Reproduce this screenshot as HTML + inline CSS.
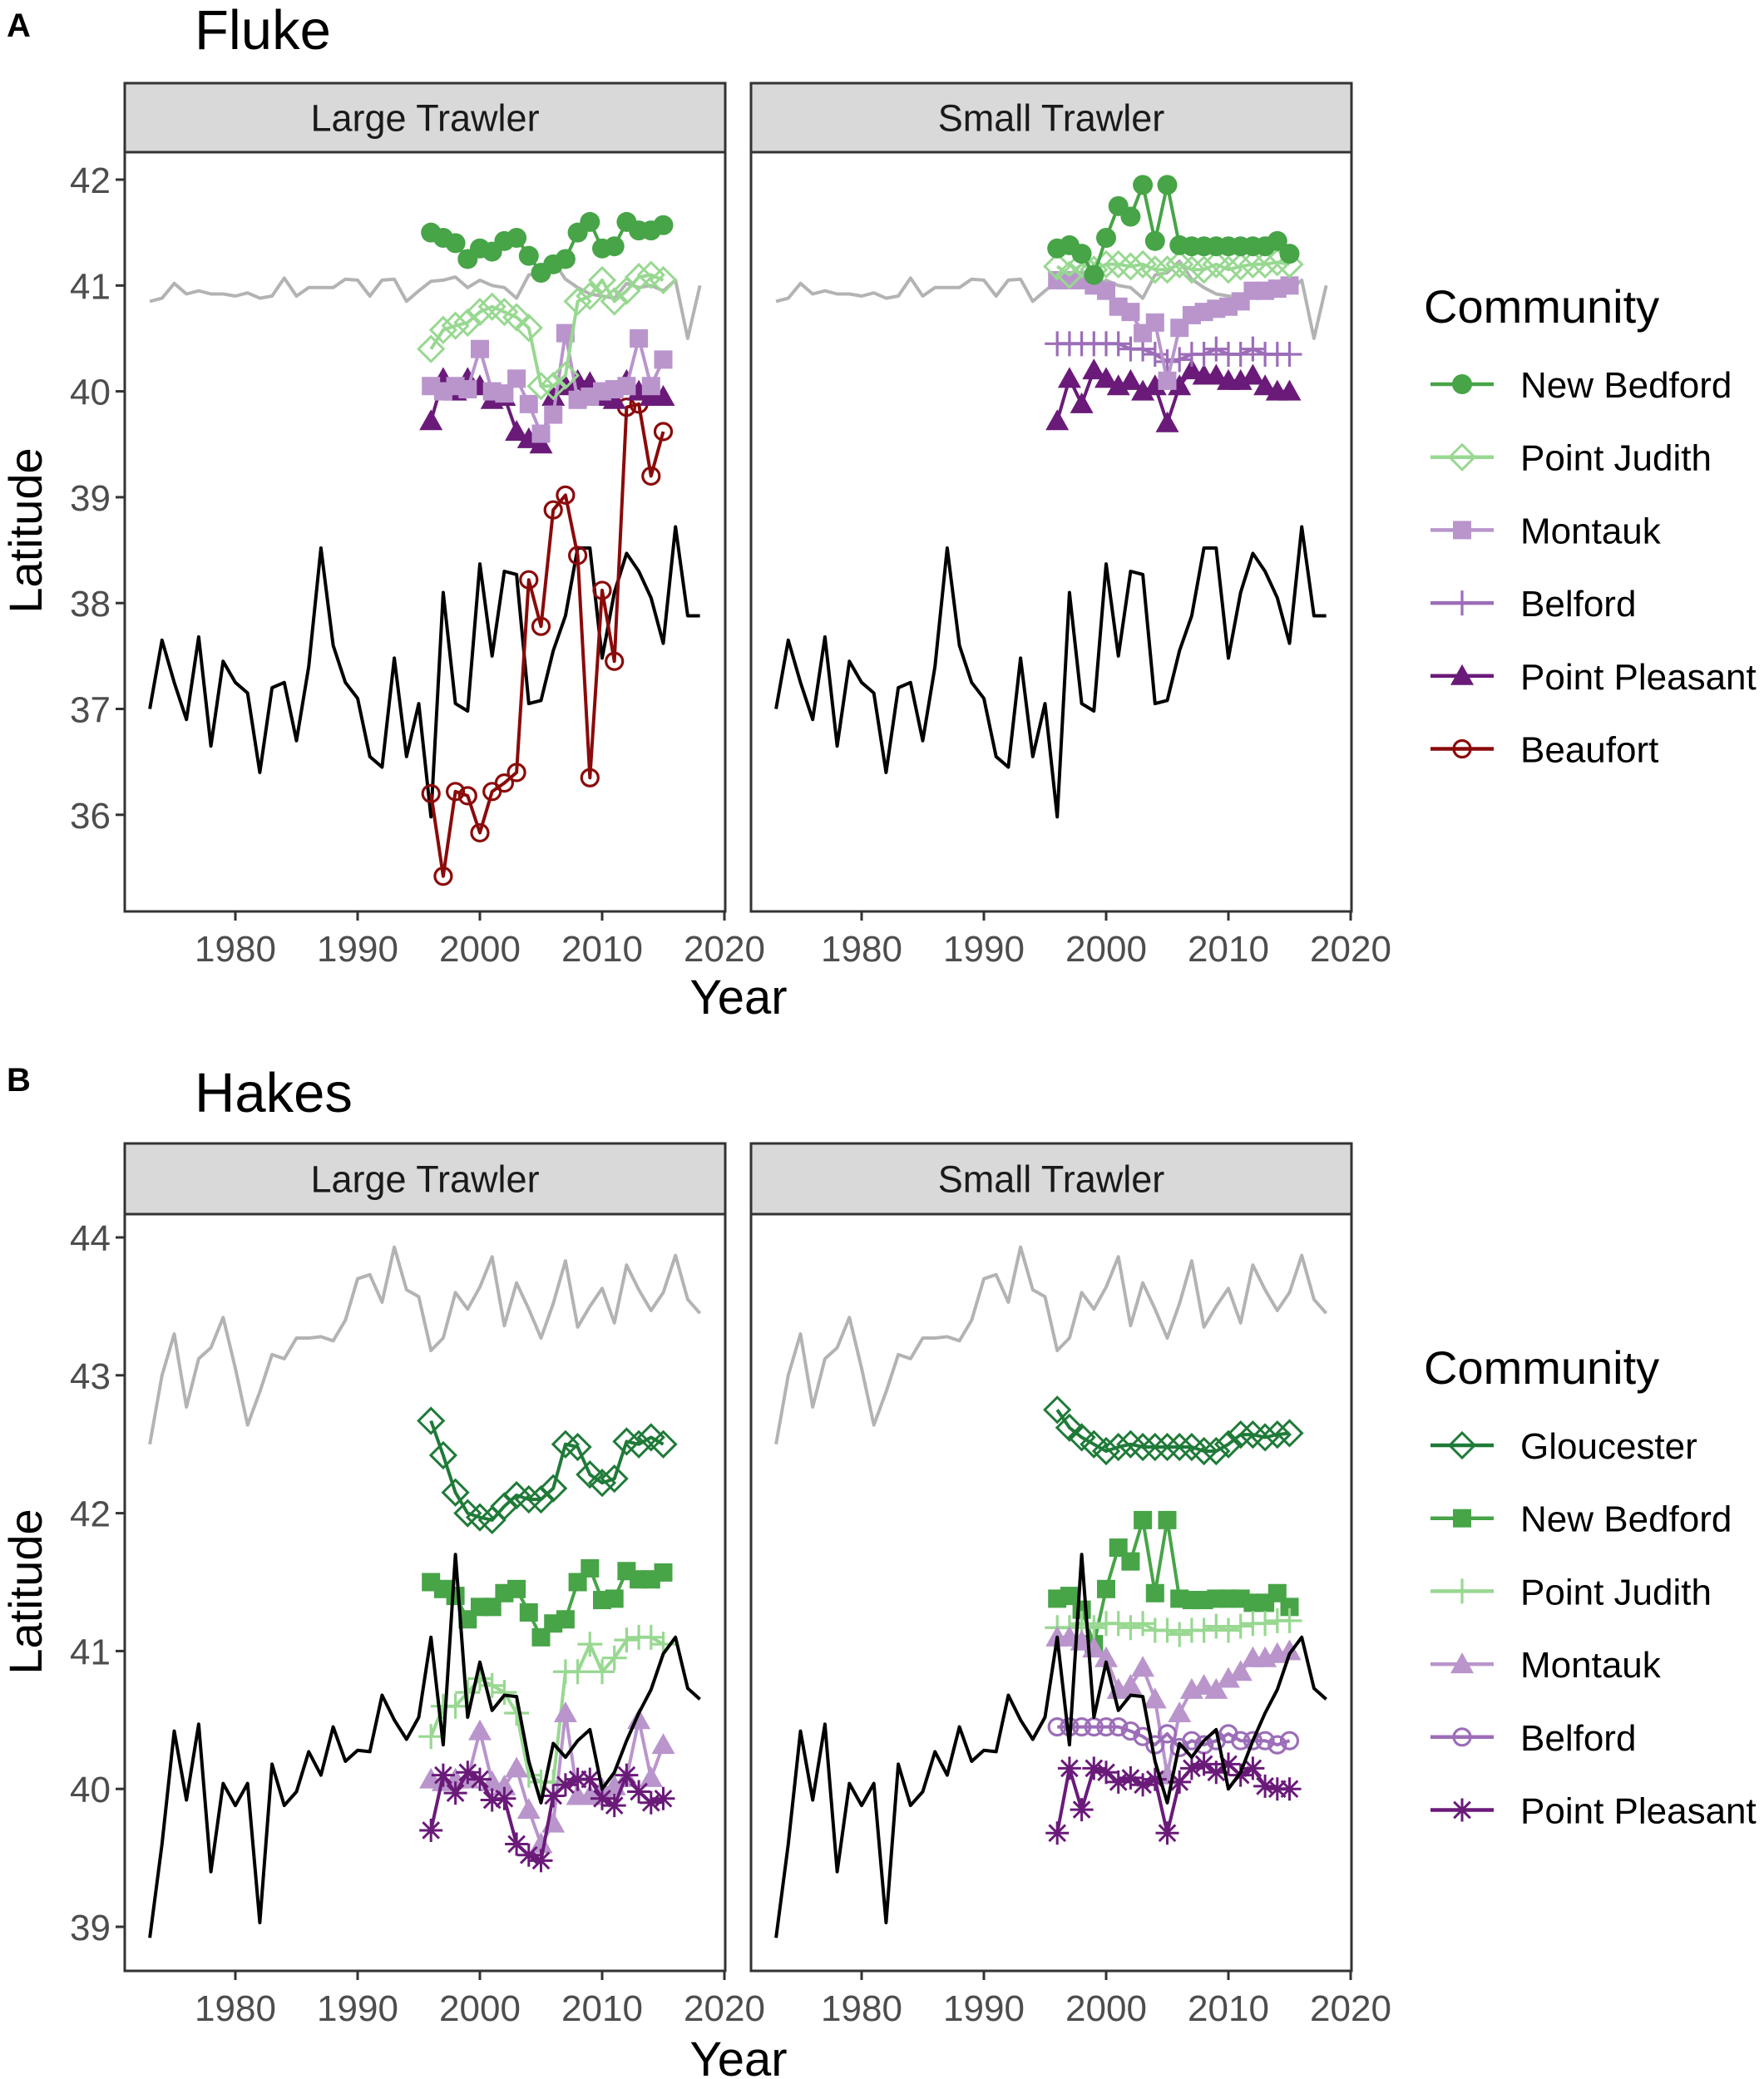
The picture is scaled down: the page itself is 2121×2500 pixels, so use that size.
<!DOCTYPE html>
<html><head><meta charset="utf-8">
<style>
html,body{margin:0;padding:0;background:#fff;}
svg{display:block;font-family:"Liberation Sans",Arial,sans-serif;}
</style></head>
<body>
<svg id="chart" width="2121" height="2500" viewBox="0 0 2121 2500" xmlns="http://www.w3.org/2000/svg"></svg>
<script>
// ---------- DATA ----------
const years = [];
for (let y = 1973; y <= 2018; y++) years.push(y);
const commYears = [];
for (let y = 1996; y <= 2015; y++) commYears.push(y);

// Fluke
const flukeBlack = [37.0,37.65,37.25,36.9,37.68,36.65,37.45,37.25,37.15,36.4,37.2,37.25,36.7,37.4,38.52,37.6,37.25,37.1,36.55,36.45,37.48,36.55,37.05,35.98,38.1,37.05,36.98,38.37,37.5,38.3,38.27,37.05,37.08,37.55,37.88,38.52,38.52,37.48,38.1,38.47,38.3,38.05,37.62,38.72,37.88,37.88];
const flukeGray = [40.85,40.88,41.02,40.92,40.95,40.92,40.92,40.9,40.93,40.88,40.9,41.07,40.9,40.98,40.98,40.98,41.06,41.05,40.9,41.05,41.06,40.85,40.95,41.04,41.05,41.08,40.98,41.05,41.0,40.98,40.88,41.1,41.12,41.23,41.06,40.98,40.92,40.9,40.88,41.02,40.98,41.0,40.95,41.05,40.5,41.0];
const flukeLargeNewBedford = [41.5,41.45,41.4,41.25,41.35,41.32,41.42,41.45,41.28,41.12,41.2,41.25,41.5,41.6,41.35,41.37,41.6,41.52,41.52,41.57];
const flukeLargePointJudith = [40.4,40.58,40.62,40.65,40.75,40.8,40.75,40.7,40.6,40.05,40.05,40.15,40.85,40.9,41.05,40.85,40.95,41.08,41.1,41.05];
const flukeLargeMontauk = [40.05,40.0,40.05,40.02,40.4,40.0,39.98,40.12,39.88,39.6,39.78,40.55,39.92,39.95,40.0,40.02,40.05,40.5,40.05,40.3];
const flukeLargePointPleasant = [39.72,40.12,40.0,40.12,40.05,39.92,39.95,39.62,39.55,39.5,39.95,40.05,40.1,40.08,39.95,39.92,40.1,40.0,39.95,39.95];
const flukeLargeBeaufort = [36.2,35.42,36.22,36.18,35.83,36.22,36.3,36.4,38.22,37.78,38.88,39.02,38.45,36.35,38.12,37.45,39.85,39.88,39.2,39.62];
const flukeSmallNewBedford = [41.35,41.38,41.3,41.1,41.45,41.75,41.65,41.95,41.42,41.95,41.38,41.37,41.37,41.37,41.37,41.37,41.37,41.37,41.42,41.3];
const flukeSmallPointJudith = [41.18,41.1,41.2,41.15,41.2,41.2,41.18,41.2,41.15,41.15,41.2,41.15,41.15,41.2,41.15,41.18,41.2,41.2,41.22,41.2];
const flukeSmallMontauk = [41.05,41.05,41.05,41.0,40.95,40.8,40.75,40.55,40.65,40.1,40.6,40.72,40.75,40.78,40.8,40.85,40.95,40.95,40.97,41.0];
const flukeSmallBelford = [40.45,40.45,40.45,40.45,40.45,40.45,40.4,40.4,40.35,40.28,40.3,40.35,40.35,40.4,40.35,40.35,40.4,40.35,40.35,40.35];
const flukeSmallPointPleasant = [39.72,40.12,39.88,40.2,40.12,40.05,40.1,40.0,40.05,39.7,40.05,40.2,40.15,40.15,40.1,40.1,40.15,40.05,40.0,40.0];

// Hakes
const hakeBlack = [38.92,39.6,40.42,39.92,40.47,39.4,40.04,39.88,40.04,39.03,40.18,39.88,39.98,40.27,40.1,40.45,40.2,40.28,40.27,40.68,40.5,40.36,40.52,41.1,40.32,41.7,40.52,40.92,40.57,40.68,40.67,40.2,39.9,40.33,40.23,40.35,40.43,40.0,40.12,40.35,40.55,40.72,40.98,41.1,40.73,40.65];
const hakeGray = [42.5,43.0,43.3,42.77,43.12,43.2,43.42,43.05,42.64,42.88,43.15,43.12,43.27,43.27,43.28,43.25,43.4,43.7,43.73,43.53,43.93,43.62,43.57,43.18,43.27,43.6,43.48,43.64,43.86,43.36,43.67,43.48,43.27,43.52,43.83,43.35,43.5,43.63,43.38,43.8,43.62,43.47,43.6,43.87,43.55,43.45];
const hakeLargeGloucester = [42.67,42.42,42.15,42.0,41.97,41.95,42.05,42.13,42.1,42.1,42.18,42.5,42.48,42.28,42.22,42.25,42.52,42.5,42.55,42.5];
const hakeLargeNewBedford = [41.5,41.45,41.4,41.23,41.32,41.32,41.42,41.45,41.28,41.1,41.2,41.23,41.5,41.6,41.37,41.38,41.58,41.52,41.52,41.57];
const hakeLargePointJudith = [40.38,40.6,40.6,40.7,40.8,40.75,40.7,40.55,40.1,40.05,40.05,40.85,40.85,41.05,40.85,40.95,41.08,41.1,41.1,41.05];
const hakeLargeMontauk = [40.07,40.05,40.07,40.07,40.42,40.05,40.02,40.15,39.85,39.6,39.75,40.55,39.95,39.95,40.0,40.02,40.08,40.5,40.08,40.32];
const hakeLargePointPleasant = [39.7,40.1,39.97,40.12,40.07,39.92,39.93,39.6,39.52,39.48,39.95,40.03,40.07,40.07,39.93,39.88,40.1,39.98,39.9,39.93];
const hakeSmallGloucester = [42.75,42.62,42.55,42.5,42.45,42.48,42.5,42.48,42.48,42.48,42.48,42.48,42.45,42.45,42.5,42.57,42.57,42.55,42.57,42.58];
const hakeSmallNewBedford = [41.38,41.4,41.3,41.05,41.45,41.75,41.65,41.95,41.42,41.95,41.38,41.37,41.37,41.38,41.38,41.38,41.35,41.35,41.42,41.32];
const hakeSmallPointJudith = [41.17,41.17,41.2,41.17,41.2,41.2,41.17,41.2,41.15,41.15,41.12,41.15,41.15,41.18,41.15,41.18,41.2,41.2,41.22,41.22];
const hakeSmallMontauk = [41.1,41.1,41.07,41.02,40.95,40.72,40.75,40.88,40.65,40.1,40.55,40.72,40.75,40.72,40.8,40.85,40.95,40.95,40.98,41.0];
const hakeSmallBelford = [40.45,40.45,40.45,40.45,40.45,40.45,40.42,40.38,40.32,40.4,40.3,40.35,40.32,40.35,40.4,40.35,40.35,40.35,40.32,40.35];
const hakeSmallPointPleasant = [39.68,40.15,39.85,40.15,40.12,40.05,40.08,40.03,40.07,39.68,40.05,40.15,40.18,40.12,40.18,40.1,40.15,40.02,40.0,40.0];

const xTicks = [1980,1990,2000,2010,2020];
const flukeYTicks = [36,37,38,39,40,41,42];
const hakeYTicks = [39,40,41,42,43,44];
const flukeLegend = ["New Bedford","Point Judith","Montauk","Belford","Point Pleasant","Beaufort"];
const hakeLegend = ["Gloucester","New Bedford","Point Judith","Montauk","Belford","Point Pleasant"];

// ---------- STYLE ----------
const NS = "http://www.w3.org/2000/svg";
const svg = document.getElementById('chart');
const C = {
  nb:"#47a447", pj:"#98d891", mt:"#b995cc", bf:"#9c6db8", pp:"#6a1a79", bt:"#8b0a0a", gl:"#1f7a38"
};
function el(tag, attrs, parent) {
  const e = document.createElementNS(NS, tag);
  for (const k in attrs) e.setAttribute(k, attrs[k]);
  (parent || svg).appendChild(e);
  return e;
}
function txt(s, attrs, parent) { const t = el('text', attrs, parent); t.textContent = s; return t; }

function marker(g, shape, color, x, y) {
  const r = 11;
  let m;
  if (shape === 'circle') m = el('circle', {cx:x, cy:y, r:r+1, fill:color}, g);
  else if (shape === 'ocircle') m = el('circle', {cx:x, cy:y, r:r-1, fill:'none', stroke:color, 'stroke-width':3.2}, g);
  else if (shape === 'square') m = el('rect', {x:x-r, y:y-r, width:2*r, height:2*r, fill:color}, g);
  else if (shape === 'triangle') m = el('polygon', {points:`${x},${y-r-3} ${x+r+3},${y+r} ${x-r-3},${y+r}`, fill:color}, g);
  else if (shape === 'odiamond') m = el('polygon', {points:`${x},${y-r-4} ${x+r+4},${y} ${x},${y+r+4} ${x-r-4},${y}`, fill:'none', stroke:color, 'stroke-width':3}, g);
  else if (shape === 'plus') m = el('path', {d:`M${x-r-4},${y}H${x+r+4}M${x},${y-r-4}V${y+r+4}`, stroke:color, 'stroke-width':3.2, fill:'none'}, g);
  else if (shape === 'star') {
    const R = r+3;
    const a = R*0.7;
    const d = `M${x-R},${y}H${x+R}M${x},${y-R}V${y+R}M${x-a},${y-a}L${x+a},${y+a}M${x-a},${y+a}L${x+a},${y-a}`;
    m = el('path', {d:d, stroke:color, 'stroke-width':3, fill:'none'}, g);
  }
  return m;
}

function panel(p) {
  const g = el('g', {});
  
  
  const strip = el('rect', {x:p.x0, y:p.stripTop, width:p.x1-p.x0, height:p.y0-p.stripTop, fill:'#d9d9d9', stroke:'#333', 'stroke-width':3}, g);
  
  
  const st = txt(p.label, {x:(p.x0+p.x1)/2, y:(p.stripTop+p.y0)/2+16, 'text-anchor':'middle', 'font-size':45, fill:'#1a1a1a'}, g);
  
  
  const box = el('rect', {x:p.x0, y:p.y0, width:p.x1-p.x0, height:p.y1-p.y0, fill:'#fff', stroke:'#333', 'stroke-width':3}, g);
  
  
  const xs = yr => p.x0 + 133 + (yr - 1980) * 14.7;
  xTicks.forEach(t => {
    const X = xs(t);
    el('line', {x1:X, x2:X, y1:p.y1, y2:p.y1+11, stroke:'#333', 'stroke-width':3}, g);
    const lab = txt(String(t), {x:X, y:p.y1+60, 'text-anchor':'middle', 'font-size':44, fill:'#4d4d4d'}, g);
    
    
  });
  if (p.showY) {
    p.yTicks.forEach(t => {
      const Y = p.yScale(t);
      el('line', {x1:p.x0-11, x2:p.x0, y1:Y, y2:Y, stroke:'#333', 'stroke-width':3}, g);
      const lab = txt(String(t), {x:p.x0-17, y:Y+16, 'text-anchor':'end', 'font-size':44, fill:'#4d4d4d'}, g);
      
      
    });
  }
  return {g, xs};
}

function drawLine(g, xs, ys, xsArr, vals, color, width, name) {
  const d = vals.map((v,i) => (i?'L':'M') + xs(xsArr[i]).toFixed(1) + ',' + ys(v).toFixed(1)).join('');
  const pth = el('path', {d:d, fill:'none', stroke:color, 'stroke-width':width, 'stroke-linejoin':'round'}, g);
  
  
}
function drawSeries(g, xs, ys, vals, color, shape, name) {
  const sg = el('g', {}, g);
  
  
  drawLine(sg, xs, ys, commYears, vals, color, 4, name + '-line');
  vals.forEach((v,i) => {
    const m = marker(sg, shape, color, xs(commYears[i]), ys(v));
    
    
  });
}

function legend(x, top, firstY, items, colors, shapes, name) {
  const g = el('g', {});
  
  
  const t = txt('Community', {x:x-8, y:top, 'font-size':56, fill:'#000'}, g);
  
  
  items.forEach((it, i) => {
    const cy = firstY + i * 87.7;
    const eg = el('g', {}, g);
    
    
    el('line', {x1:x, x2:x+76, y1:cy, y2:cy, stroke:colors[i], 'stroke-width':4.5}, eg);
    marker(eg, shapes[i], colors[i], x+38, cy);
    txt(it, {x:x+108, y:cy+16, 'font-size':44, fill:'#000'}, eg);
  });
}

function label(s, attrs, name) { const t = txt(s, attrs);   return t; }
label('A', {x:8, y:44, 'font-size':40, 'font-weight':'bold'}, 'panel-label-a');
label('Fluke', {x:234, y:59, 'font-size':67}, 'title-fluke');
label('B', {x:8, y:1312, 'font-size':40, 'font-weight':'bold'}, 'panel-label-b');
label('Hakes', {x:234, y:1337, 'font-size':67}, 'title-hakes');

// ---------- FLUKE ----------
const yA = v => 216 - (v - 42) * 127.3;
const pAL = panel({x0:150,x1:872,y0:183,y1:1096,stripTop:100,label:'Large Trawler',yScale:yA,yTicks:flukeYTicks,showY:true,name:'fluke-large-trawler-panel'});
const pAS = panel({x0:903,x1:1625,y0:183,y1:1096,stripTop:100,label:'Small Trawler',yScale:yA,yTicks:flukeYTicks,showY:false,name:'fluke-small-trawler-panel'});
[pAL,pAS].forEach(p => {
  drawLine(p.g, p.xs, yA, years, flukeGray, '#b3b3b3', 4, 'northern-edge-line');
  drawLine(p.g, p.xs, yA, years, flukeBlack, '#000', 4, 'center-of-biomass-line');
});
drawSeries(pAL.g, pAL.xs, yA, flukeLargeBeaufort, C.bt, 'ocircle', 'series-beaufort');
drawSeries(pAL.g, pAL.xs, yA, flukeLargePointPleasant, C.pp, 'triangle', 'series-point-pleasant');
drawSeries(pAL.g, pAL.xs, yA, flukeLargeMontauk, C.mt, 'square', 'series-montauk');
drawSeries(pAL.g, pAL.xs, yA, flukeLargePointJudith, C.pj, 'odiamond', 'series-point-judith');
drawSeries(pAL.g, pAL.xs, yA, flukeLargeNewBedford, C.nb, 'circle', 'series-new-bedford');
drawSeries(pAS.g, pAS.xs, yA, flukeSmallPointPleasant, C.pp, 'triangle', 'series-point-pleasant');
drawSeries(pAS.g, pAS.xs, yA, flukeSmallBelford, C.bf, 'plus', 'series-belford');
drawSeries(pAS.g, pAS.xs, yA, flukeSmallMontauk, C.mt, 'square', 'series-montauk');
drawSeries(pAS.g, pAS.xs, yA, flukeSmallPointJudith, C.pj, 'odiamond', 'series-point-judith');
drawSeries(pAS.g, pAS.xs, yA, flukeSmallNewBedford, C.nb, 'circle', 'series-new-bedford');
label('Latitude', {x:0, y:0, 'font-size':56, 'text-anchor':'middle', transform:'translate(50,638) rotate(-90)'}, 'y-axis-title-fluke');
label('Year', {x:888, y:1219, 'font-size':58, 'text-anchor':'middle'}, 'x-axis-title-fluke');
legend(1720, 388, 462, flukeLegend, [C.nb,C.pj,C.mt,C.bf,C.pp,C.bt], ['circle','odiamond','square','plus','triangle','ocircle'], 'legend-fluke');

// ---------- HAKES ----------
const yB = v => 1488 - (v - 44) * 165.8;
const pBL = panel({x0:150,x1:872,y0:1460,y1:2370,stripTop:1375,label:'Large Trawler',yScale:yB,yTicks:hakeYTicks,showY:true,name:'hakes-large-trawler-panel'});
const pBS = panel({x0:903,x1:1625,y0:1460,y1:2370,stripTop:1375,label:'Small Trawler',yScale:yB,yTicks:hakeYTicks,showY:false,name:'hakes-small-trawler-panel'});
[pBL,pBS].forEach(p => {
  drawLine(p.g, p.xs, yB, years, hakeGray, '#b3b3b3', 4, 'northern-edge-line');
});
drawSeries(pBL.g, pBL.xs, yB, hakeLargeGloucester, C.gl, 'odiamond', 'series-gloucester');
drawSeries(pBL.g, pBL.xs, yB, hakeLargeNewBedford, C.nb, 'square', 'series-new-bedford');
drawSeries(pBL.g, pBL.xs, yB, hakeLargePointJudith, C.pj, 'plus', 'series-point-judith');
drawSeries(pBL.g, pBL.xs, yB, hakeLargeMontauk, C.mt, 'triangle', 'series-montauk');
drawSeries(pBL.g, pBL.xs, yB, hakeLargePointPleasant, C.pp, 'star', 'series-point-pleasant');
drawSeries(pBS.g, pBS.xs, yB, hakeSmallGloucester, C.gl, 'odiamond', 'series-gloucester');
drawSeries(pBS.g, pBS.xs, yB, hakeSmallNewBedford, C.nb, 'square', 'series-new-bedford');
drawSeries(pBS.g, pBS.xs, yB, hakeSmallPointJudith, C.pj, 'plus', 'series-point-judith');
drawSeries(pBS.g, pBS.xs, yB, hakeSmallMontauk, C.mt, 'triangle', 'series-montauk');
drawSeries(pBS.g, pBS.xs, yB, hakeSmallBelford, C.bf, 'ocircle', 'series-belford');
drawSeries(pBS.g, pBS.xs, yB, hakeSmallPointPleasant, C.pp, 'star', 'series-point-pleasant');
[pBL,pBS].forEach(p => {
  drawLine(p.g, p.xs, yB, years, hakeBlack, '#000', 4, 'center-of-biomass-line');
});
label('Latitude', {x:0, y:0, 'font-size':56, 'text-anchor':'middle', transform:'translate(50,1914) rotate(-90)'}, 'y-axis-title-hakes');
label('Year', {x:888, y:2496, 'font-size':58, 'text-anchor':'middle'}, 'x-axis-title-hakes');
legend(1720, 1664, 1738, hakeLegend, [C.gl,C.nb,C.pj,C.mt,C.bf,C.pp], ['odiamond','square','plus','triangle','ocircle','star'], 'legend-hakes');
</script>
</body></html>
